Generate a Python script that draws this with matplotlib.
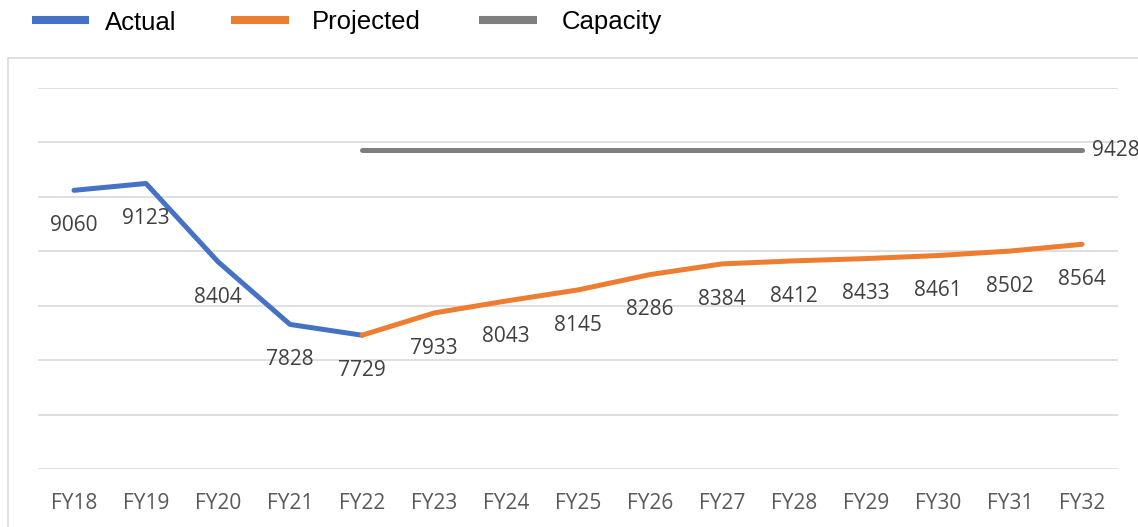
import matplotlib
matplotlib.use("Agg")
import matplotlib.pyplot as plt
from matplotlib.lines import Line2D
from matplotlib.patches import Rectangle

categories = ["FY18", "FY19", "FY20", "FY21", "FY22", "FY23", "FY24", "FY25",
              "FY26", "FY27", "FY28", "FY29", "FY30", "FY31", "FY32"]
actual = [9060, 9123, 8404, 7828, 7729]
projected = [7729, 7933, 8043, 8145, 8286, 8384, 8412, 8433, 8461, 8502, 8564]
capacity = [9428] * 11
series_names = ["Actual", "Projected", "Capacity"]

actual_idx = list(range(0, 5))
proj_idx = list(range(4, 15))

BLUE = "#4472C4"
ORANGE = "#ED7D31"
GRAY = "#7F7F7F"
GRID = "#D9D9D9"
LABEL_FONT = ["Open Sans", "DejaVu Sans"]
LEGEND_FONT = ["Liberation Sans", "DejaVu Sans"]

W, H = 1138, 527
fig = plt.figure(figsize=(W / 100, H / 100), dpi=100)
ax = fig.add_axes([38 / W, 1 - 469 / H, (1118 - 38) / W, (469 - 88) / H])

ax.plot(actual_idx, actual, color=BLUE, lw=3.6, solid_capstyle="round", zorder=3)
ax.plot(proj_idx, projected, color=ORANGE, lw=3.6, solid_capstyle="round", zorder=3)
ax.plot(proj_idx, capacity, color=GRAY, lw=3.6, solid_capstyle="round", zorder=3)

ax.set_xlim(-0.5, 14.5)
ax.set_ylim(6500, 10000)
ax.set_yticks(range(6500, 10001, 500))
ax.yaxis.grid(True, color=GRID, lw=1.2)
ax.set_axisbelow(True)
ax.tick_params(axis="y", left=False, labelleft=False)
ax.set_xticks(range(len(categories)))
ax.set_xticklabels(categories, fontsize=15, color="#595959", family=LABEL_FONT)
ax.tick_params(axis="x", length=0, pad=17)
for s in ax.spines.values():
    s.set_visible(False)

# data labels
for i, v in zip(actual_idx, actual):
    ax.annotate(str(v), (i, v), xytext=(0, -25.5), textcoords="offset points",
                ha="center", va="center", fontsize=15, color="#404040", family=LABEL_FONT)
for i, v in zip(proj_idx[1:], projected[1:]):
    ax.annotate(str(v), (i, v), xytext=(0, -25.5), textcoords="offset points",
                ha="center", va="center", fontsize=15, color="#404040", family=LABEL_FONT)
ax.annotate(str(capacity[-1]), (proj_idx[-1], capacity[-1]), xytext=(7, 0), textcoords="offset points",
            ha="left", va="center", fontsize=15, color="#404040", family=LABEL_FONT,
            annotation_clip=False)

# outer plot-area border
fig.patches.append(Rectangle((8 / W, -0.01), 1.1, 1 - 58 / H + 0.01, transform=fig.transFigure,
                             fill=False, edgecolor=GRID, lw=1.2))

# legend (manual placement in figure pixels)
colors = [BLUE, ORANGE, GRAY]
handle_x = [(32, 89), (231, 289), (479, 537)]
text_x = [105, 312, 562]
ly = 1 - 20 / H
for name, c, (x0, x1), tx in zip(series_names, colors, handle_x, text_x):
    fig.add_artist(Line2D([x0 / W, x1 / W], [ly, ly], color=c, lw=5.8, transform=fig.transFigure,
                          solid_capstyle="butt"))
    fig.text(tx / W, ly, name, ha="left", va="center_baseline", fontsize=18.5, color="black",
             family=LEGEND_FONT)

fig.savefig("out.png", dpi=100)
